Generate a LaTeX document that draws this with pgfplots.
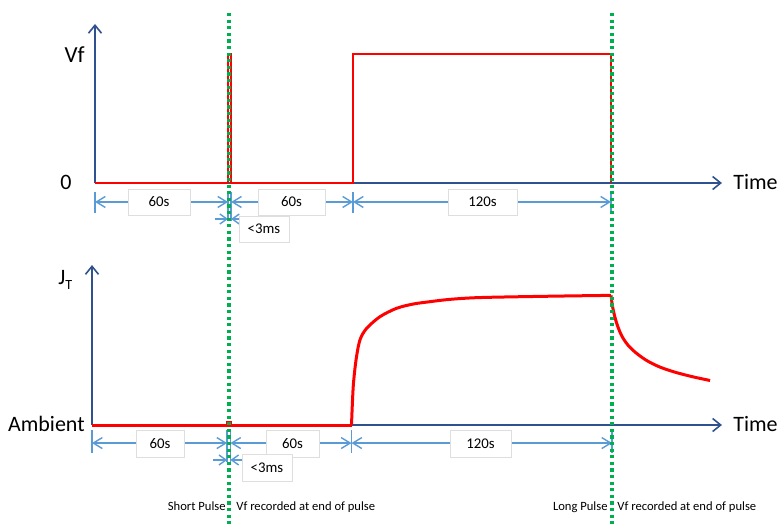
\documentclass[border=0pt]{standalone}
\usepackage{pgfplots}
\pgfplotsset{compat=1.18}
\usetikzlibrary{arrows.meta}
\usepackage{fontspec}
\setmainfont{Carlito}
\definecolor{axblue}{RGB}{47,82,143}
\definecolor{dimblue}{RGB}{91,155,213}
\definecolor{mygreen}{RGB}{0,176,80}
\definecolor{boxgray}{RGB}{222,222,222}
\begin{document}
\begin{tikzpicture}[
  dim/.style={dimblue, line width=0.7pt, {Straight Barb[length=4.5pt,width=5.5pt]}-{Straight Barb[length=4.5pt,width=5.5pt]}},
  sdim/.style={dimblue, line width=0.7pt, -{Straight Barb[length=3.5pt,width=5pt]}},
  tk/.style={dimblue, line width=0.7pt},
  lbl/.style={draw=boxgray, line width=0.3pt, fill=white, font=\fontsize{7.4}{8}\selectfont, inner sep=0pt, minimum height=13pt},
  big/.style={font=\fontsize{11}{12}\selectfont, inner sep=0pt},
  note/.style={font=\fontsize{6.3}{7}\selectfont, inner sep=0pt}
]
\path[use as bounding box] (0,0) rectangle (389pt,-263.5pt);

% ---------- top panel: forward voltage ----------
\begin{axis}[
  at={(47.5pt,-91.5pt)}, anchor=south west,
  x=1.075pt, y=64.5pt,
  xmin=0, xmax=291.6, ymin=0, ymax=1.233,
  axis lines=left,
  axis line style={axblue, line width=0.8pt, -{Straight Barb[length=4pt,width=6.5pt]}},
  xtick=\empty, ytick=\empty, clip=false,
]
\addplot[red, line width=1pt] coordinates {(0,0) (61.9,0) (61.9,1) (63.3,1) (63.3,0) (120,0) (120,1) (240,1) (240,0)};

\node[big, anchor=base east, font=\fontsize{11.5}{12}\selectfont] at (axis cs:-4.6,0.938) {Vf};
\node[big, anchor=base east] at (axis cs:-10.7,-0.054) {0};
\node[big, anchor=base west] at (axis cs:296.7,-0.054) {Time};

\draw[tk] (axis cs:0,-0.07) -- (axis cs:0,-0.233);
\draw[tk] (axis cs:61.9,-0.07) -- (axis cs:61.9,-0.295);
\draw[tk] (axis cs:63.3,-0.07) -- (axis cs:63.3,-0.295);
\draw[tk] (axis cs:120,-0.07) -- (axis cs:120,-0.233);
\draw[tk] (axis cs:240,-0.07) -- (axis cs:240,-0.233);
\draw[dim] (axis cs:0,-0.147) -- (axis cs:61.9,-0.147);
\draw[dim] (axis cs:63.3,-0.147) -- (axis cs:120,-0.147);
\draw[dim] (axis cs:120,-0.147) -- (axis cs:240,-0.147);
\node[lbl, minimum width=31pt] at (axis cs:29.8,-0.147) {60s};
\node[lbl, minimum width=33.5pt] at (axis cs:91.4,-0.147) {60s};
\node[lbl, minimum width=34.5pt] at (axis cs:180.2,-0.147) {120s};
\draw[sdim] (axis cs:55.8,-0.279) -- (axis cs:61.9,-0.279);
\draw[sdim] (axis cs:69.3,-0.279) -- (axis cs:63.3,-0.279);
\node[lbl, minimum width=25pt] at (axis cs:78.6,-0.357) {<3ms};
\end{axis}

% ---------- bottom panel: junction temperature ----------
\begin{axis}[
  at={(46pt,-212.5pt)}, anchor=south west,
  x=1.08125pt, y=64.5pt,
  xmin=0, xmax=291.3, ymin=0, ymax=1.24,
  axis lines=left,
  axis line style={axblue, line width=0.8pt, -{Straight Barb[length=4pt,width=6.5pt]}},
  xtick=\empty, ytick=\empty, clip=false,
]
\addplot[red, line width=1.5pt] coordinates {(0,0) (62.5,0) (62.5,0.02) (64,0.02) (64,0) (120,0)};
\addplot[red, line width=1.5pt, smooth, tension=0.5] coordinates {(120,0) (120.8,0.297) (122.1,0.504) (123.9,0.659) (127.0,0.749) (133.2,0.840) (140.9,0.905) (148.6,0.938) (156.3,0.956) (165.5,0.974) (179.4,0.988) (210.4,0.998) (240,1.005)};
\addplot[red, line width=1.5pt, smooth, tension=0.5] coordinates {(240,1.005) (240.6,0.93) (241.6,0.85) (243.0,0.77) (245.0,0.69) (247.8,0.62) (251.5,0.56) (256.5,0.50) (262.5,0.45) (269.5,0.41) (277.5,0.375) (285.8,0.345)};

\node[big, anchor=base west] at (axis cs:-15.7,1.093) {J\raisebox{-2.5pt}{\fontsize{7}{7}\selectfont T}};
\node[big, anchor=base east] at (axis cs:-3.2,-0.054) {Ambient};
\node[big, anchor=base west] at (axis cs:296.4,-0.054) {Time};

\draw[tk] (axis cs:0,-0.039) -- (axis cs:0,-0.217);
\draw[tk] (axis cs:62.5,-0.039) -- (axis cs:62.5,-0.287);
\draw[tk] (axis cs:64,-0.039) -- (axis cs:64,-0.287);
\draw[tk] (axis cs:120,-0.039) -- (axis cs:120,-0.217);
\draw[tk] (axis cs:240.5,-0.039) -- (axis cs:240.5,-0.217);
\draw[dim] (axis cs:0,-0.140) -- (axis cs:62.5,-0.140);
\draw[dim] (axis cs:64,-0.140) -- (axis cs:120,-0.140);
\draw[dim] (axis cs:120,-0.140) -- (axis cs:240.5,-0.140);
\node[lbl, minimum width=24pt, minimum height=13.5pt] at (axis cs:31.4,-0.143) {60s};
\node[lbl, minimum width=26.5pt, minimum height=13.5pt] at (axis cs:92.7,-0.143) {60s};
\node[lbl, minimum width=30.5pt, minimum height=13.5pt] at (axis cs:179.7,-0.143) {120s};
\draw[sdim] (axis cs:56,-0.271) -- (axis cs:62.5,-0.271);
\draw[sdim] (axis cs:70.3,-0.271) -- (axis cs:64,-0.271);
\node[lbl, minimum width=25pt, minimum height=13.5pt] at (axis cs:80.9,-0.329) {<3ms};

\node[note, anchor=base east] at (axis cs:62.0,-0.659) {Short Pulse};
\node[note, anchor=base west] at (axis cs:66.6,-0.659) {Vf recorded at end of pulse};
\node[note, anchor=base east] at (axis cs:238.6,-0.659) {Long Pulse};
\node[note, anchor=base west] at (axis cs:242.8,-0.659) {Vf recorded at end of pulse};

% green markers for when Vf is recorded
\addplot[mygreen, line width=1.8pt, dash pattern=on 1.6pt off 1.7pt] coordinates {(63.35,3.194) (63.35,-0.791)};
\addplot[mygreen, line width=1.8pt, dash pattern=on 1.6pt off 1.7pt] coordinates {(240.5,3.194) (240.5,-0.791)};
\end{axis}
\end{tikzpicture}
\end{document}
